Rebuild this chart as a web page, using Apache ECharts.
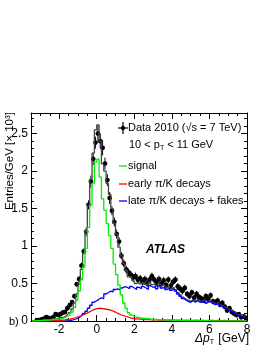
<!DOCTYPE html>
<html><head><meta charset="utf-8">
<script src="https://cdn.jsdelivr.net/npm/echarts@6/dist/echarts.min.js"></script>
<style>html,body{margin:0;padding:0;background:#fff}#c{width:270px;height:349px}</style>
</head><body><div id="c"></div>
<script>
// bin centres (GeV), 0.125 GeV bins
const binCenters = [-3.4375,-3.3125,-3.1875,-3.0625,-2.9375,-2.8125,-2.6875,-2.5625,-2.4375,-2.3125,-2.1875,-2.0625,-1.9375,-1.8125,-1.6875,-1.5625,-1.4375,-1.3125,-1.1875,-1.0625,-0.9375,-0.8125,-0.6875,-0.5625,-0.4375,-0.3125,-0.1875,-0.0625,
0.0625,0.1875,0.3125,0.4375,0.5625,0.6875,0.8125,0.9375,1.0625,1.1875,1.3125,1.4375,1.5625,1.6875,1.8125,1.9375,2.0625,2.1875,2.3125,2.4375,2.5625,2.6875,2.8125,2.9375,3.0625,3.1875,3.3125,3.4375,3.5625,3.6875,3.8125,3.9375,4.0625,4.1875,4.3125,4.4375,4.5625,4.6875,4.8125,4.9375,5.0625,5.1875,5.3125,5.4375,5.5625,5.6875,5.8125,5.9375,6.0625,6.1875,6.3125,6.4375,6.5625,6.6875,6.8125,6.9375,7.0625,7.1875,7.3125,7.4375,7.5625,7.6875,7.8125,7.9375];
// Data 2010, entries/GeV in units of 10^3
const dataValues = [null,null,0.01,0.01,0.02,0.03,0.05,0.04,0.03,0.05,0.09,0.08,0.09,0.11,0.12,0.17,0.21,0.25,0.33,0.49,0.56,0.74,0.93,1.19,1.55,1.86,2.16,2.38,
2.50,2.40,2.31,2.10,1.88,1.64,1.47,1.32,1.16,1.06,0.87,0.77,0.69,0.65,0.62,0.58,0.60,0.55,0.57,0.52,0.56,0.50,0.55,0.60,0.55,0.51,0.56,0.50,0.54,0.48,0.55,0.47,0.52,0.55,0.46,0.43,0.40,0.44,0.36,0.33,0.38,0.31,0.36,0.32,0.30,0.28,0.33,0.29,0.34,0.26,0.25,0.27,0.22,0.24,0.19,0.14,0.17,0.12,0.10,0.08,0.09,0.05,0.06,0.04];
const dataErrors = [0,0,0.02,0.02,0.02,0.02,0.02,0.02,0.02,0.02,0.02,0.02,0.02,0.02,0.02,0.03,0.03,0.03,0.03,0.03,0.04,0.04,0.04,0.06,0.06,0.08,0.08,0.08,
0.1,0.1,0.1,0.08,0.08,0.08,0.06,0.06,0.06,0.06,0.05,0.05,0.05,0.05,0.05,0.05,0.045,0.045,0.045,0.045,0.045,0.045,0.045,0.045,0.045,0.045,0.045,0.045,0.045,0.045,0.045,0.045,0.045,0.045,0.045,0.045,0.045,0.045,0.04,0.04,0.04,0.04,0.04,0.04,0.04,0.04,0.04,0.04,0.04,0.04,0.04,0.04,0.04,0.04,0.03,0.03,0.03,0.03,0.03,0.03,0.03,0.03,0.03,0.03];
const signal = [0,0,0.005,0.005,0.005,0.01,0.01,0.01,0.015,0.02,0.02,0.025,0.03,0.035,0.045,0.06,0.08,0.12,0.18,0.28,0.40,0.55,0.72,0.97,1.25,1.55,1.84,2.12,
2.16,1.92,1.63,1.48,1.30,1.14,0.97,0.76,0.62,0.48,0.35,0.24,0.17,0.11,0.08,0.06,0.05,0.045,0.04,0.035,0.03,0.03,0.025,0.02,0.02,0.02,0.015,0.015,0.015,0.01,0.015,0.01,0.01,0.01,0.008,0.008,0.006,0.005,0.005,0.005,0.005,0.005,0.005,0.005,0.005,0.005,0.005,0.005,0.003,0.003,0.003,0.003,0.003,0.003,0.003,0.003,0.003,0.003,0.003,0.003,0.003,0.003,0.003,0.003];
const earlyDecays = [0.002,0.002,0.002,0.002,0.004,0.004,0.004,0.004,0.007,0.007,0.007,0.007,0.01,0.012,0.015,0.02,0.025,0.03,0.04,0.05,0.06,0.07,0.085,0.10,0.115,0.13,0.15,0.16,
0.165,0.17,0.165,0.16,0.155,0.15,0.14,0.125,0.11,0.095,0.08,0.07,0.06,0.05,0.04,0.035,0.03,0.028,0.025,0.022,0.02,0.02,0.018,0.016,0.015,0.014,0.013,0.012,0.012,0.011,0.01,0.01,0.01,0.008,0.01,0.009,0.012,0.008,0.01,0.007,0.009,0.008,0.01,0.007,0.008,0.009,0.006,0.008,0.007,0.009,0.006,0.007,0.008,0.005,0.007,0.006,0.005,0.006,0.004,0.005,0.004,0.004,0.003,0.003];
const lateDecays = [0,0,0,0,0,0,0,0,0,0,0,0,0,0,0,0.003,0.005,0.01,0.02,0.03,0.045,0.07,0.10,0.13,0.17,0.21,0.25,0.27,
0.29,0.31,0.30,0.36,0.38,0.40,0.39,0.42,0.43,0.41,0.44,0.46,0.45,0.43,0.46,0.44,0.42,0.45,0.43,0.46,0.44,0.42,0.47,0.45,0.46,0.43,0.47,0.44,0.45,0.42,0.44,0.41,0.43,0.40,0.36,0.33,0.30,0.28,0.26,0.25,0.27,0.25,0.27,0.25,0.25,0.27,0.24,0.26,0.25,0.23,0.22,0.24,0.20,0.19,0.17,0.15,0.14,0.12,0.10,0.08,0.07,0.06,0.05,0.04];

const xMajorTicks = [-2,0,2,4,6,8];
const xMinorTicks = [-3.5,-3,-2.5,-1.5,-1,-0.5,0.5,1,1.5,2.5,3,3.5,4.5,5,5.5,6.5,7,7.5];
const yMajorTicks = [0,0.5,1,1.5,2,2.5];
const yMinorTicks = [0.1,0.2,0.3,0.4,0.6,0.7,0.8,0.9,1.1,1.2,1.3,1.4,1.6,1.7,1.8,1.9,2.1,2.2,2.3,2.4,2.6,2.7];

const X_MIN = -3.5, X_MAX = 8, Y_MIN = 0, Y_MAX = 2.775;
const FONT = 'Liberation Sans, Arial, Helvetica, sans-serif';
const halfBin = 0.0625;

const totalModel = binCenters.map((x, i) => [x, signal[i] + earlyDecays[i] + lateDecays[i]]);
const pairs = arr => binCenters.map((x, i) => [x, arr[i]]);
const dataPoints = [];
binCenters.forEach((x, i) => { if (dataValues[i] != null) dataPoints.push([x, dataValues[i], dataErrors[i]]); });

function xAxisDef(pos, major, labels) {
  return {
    type: 'value', min: X_MIN, max: X_MAX, position: pos,
    axisLine: { show: major, onZero: false, lineStyle: { color: '#000', width: 1 } },
    axisTick: { show: true, inside: true, length: major ? 6 : 3, customValues: major ? xMajorTicks : xMinorTicks, lineStyle: { color: '#000', width: 1 } },
    axisLabel: { show: labels, customValues: xMajorTicks, color: '#000', fontSize: 12, fontFamily: FONT, margin: 3 },
    splitLine: { show: false }
  };
}
function yAxisDef(pos, major, labels) {
  return {
    type: 'value', min: Y_MIN, max: Y_MAX, position: pos,
    axisLine: { show: major, onZero: false, lineStyle: { color: '#000', width: 1 } },
    axisTick: { show: true, inside: true, length: major ? 6 : 3, customValues: major ? yMajorTicks : yMinorTicks, lineStyle: { color: '#000', width: 1 } },
    axisLabel: { show: labels, customValues: yMajorTicks, color: '#000', fontSize: 12, fontFamily: FONT, margin: 3 },
    splitLine: { show: false }
  };
}

const chart = echarts.init(document.getElementById('c'), null, { renderer: 'canvas' });
const lineSeries = (arr, color, width, name) => ({
  name, type: 'line', step: 'middle', data: arr, showSymbol: false, symbol: 'none',
  xAxisIndex: 0, yAxisIndex: 0, lineStyle: { color, width }, animation: false, clip: true, silent: true
});

chart.setOption({
  animation: false,
  grid: { left: 31, right: 23, top: 113, bottom: 28 },
  xAxis: [xAxisDef('bottom', true, true), xAxisDef('bottom', false, false), xAxisDef('top', true, false), xAxisDef('top', false, false)],
  yAxis: [yAxisDef('left', true, true), yAxisDef('left', false, false), yAxisDef('right', true, false), yAxisDef('right', false, false)],
  series: [
    lineSeries(totalModel, '#444', 1.3, 'total'),
    lineSeries(pairs(lateDecays), '#0000ff', 1.3, 'late'),
    lineSeries(pairs(earlyDecays), '#ff0000', 1.3, 'early'),
    lineSeries(pairs(signal), '#00ee00', 1.3, 'signal'),
    {
      type: 'custom', name: 'data', data: dataPoints, xAxisIndex: 0, yAxisIndex: 0, clip: true, silent: true,
      renderItem: function (params, api) {
        const x = api.value(0), y = api.value(1), e = api.value(2);
        const c = api.coord([x, y]);
        const t = api.coord([x, y + e]);
        const b = api.coord([x, Math.max(0, y - e)]);
        const l = api.coord([x - halfBin, y]);
        const r = api.coord([x + halfBin, y]);
        const st = { stroke: '#000', lineWidth: 1 };
        return { type: 'group', children: [
          { type: 'line', shape: { x1: c[0], y1: t[1], x2: c[0], y2: b[1] }, style: st },
          { type: 'line', shape: { x1: l[0], y1: c[1], x2: r[0], y2: c[1] }, style: st },
          { type: 'circle', shape: { cx: c[0], cy: c[1], r: 2.4 }, style: { fill: '#000' } }
        ]};
      }
    }
  ],
  graphic: [
    // legend
    { type: 'line', shape: { x1: 118, y1: 128, x2: 128, y2: 128 }, style: { stroke: '#000', lineWidth: 1.2 } },
    { type: 'line', shape: { x1: 123, y1: 122, x2: 123, y2: 134 }, style: { stroke: '#000', lineWidth: 1.2 } },
    { type: 'circle', shape: { cx: 123, cy: 128, r: 2.2 }, style: { fill: '#000' } },
    { type: 'text', x: 128, y: 128, style: { text: 'Data 2010 (√s = 7 TeV)', fontSize: 11, fontFamily: FONT, fill: '#000', verticalAlign: 'middle' } },
    { type: 'text', x: 129, y: 145, style: { text: '10 < p{sub|T} < 11 GeV', fontSize: 11, fontFamily: FONT, fill: '#000', verticalAlign: 'middle',
        rich: { sub: { fontSize: 7, fontFamily: FONT, padding: [6, 0, 0, 0] } } } },
    { type: 'line', shape: { x1: 119, y1: 166, x2: 127, y2: 166 }, style: { stroke: '#00ee00', lineWidth: 1.3 } },
    { type: 'text', x: 128, y: 166, style: { text: 'signal', fontSize: 11, fontFamily: FONT, fill: '#000', verticalAlign: 'middle' } },
    { type: 'line', shape: { x1: 119, y1: 184, x2: 127, y2: 184 }, style: { stroke: '#ff0000', lineWidth: 1.3 } },
    { type: 'text', x: 128, y: 184, style: { text: 'early π/K decays', fontSize: 11, fontFamily: FONT, fill: '#000', verticalAlign: 'middle' } },
    { type: 'line', shape: { x1: 119, y1: 201, x2: 127, y2: 201 }, style: { stroke: '#0000ff', lineWidth: 1.3 } },
    { type: 'text', x: 128, y: 201, style: { text: 'late π/K decays + fakes', fontSize: 11, fontFamily: FONT, fill: '#000', verticalAlign: 'middle' } },
    // ATLAS
    { type: 'text', x: 146, y: 250, style: { text: 'ATLAS', fontSize: 12, fontWeight: 'bold', fontStyle: 'italic', fontFamily: FONT, fill: '#000', verticalAlign: 'middle' } },
    // b)
    { type: 'text', x: 9, y: 322, style: { text: 'b)', fontSize: 11, fontFamily: FONT, fill: '#000', verticalAlign: 'middle' } },
    // x title
    { type: 'text', x: 249, y: 339, style: { text: '{it|Δp}{sub|T} [GeV]', fontSize: 12, fontFamily: FONT, fill: '#000', align: 'right', verticalAlign: 'middle',
        rich: { it: { fontSize: 12, fontStyle: 'italic', fontFamily: FONT }, sub: { fontSize: 7, fontFamily: FONT, padding: [7, 1, 0, 0] } } } },
    // y title
    { type: 'text', x: 10, y: 112, rotation: Math.PI / 2, style: { text: 'Entries/GeV [× 10³]', fontSize: 11.5, fontFamily: FONT, fill: '#000', align: 'right', verticalAlign: 'middle' } }
  ]
});
</script></body></html>
